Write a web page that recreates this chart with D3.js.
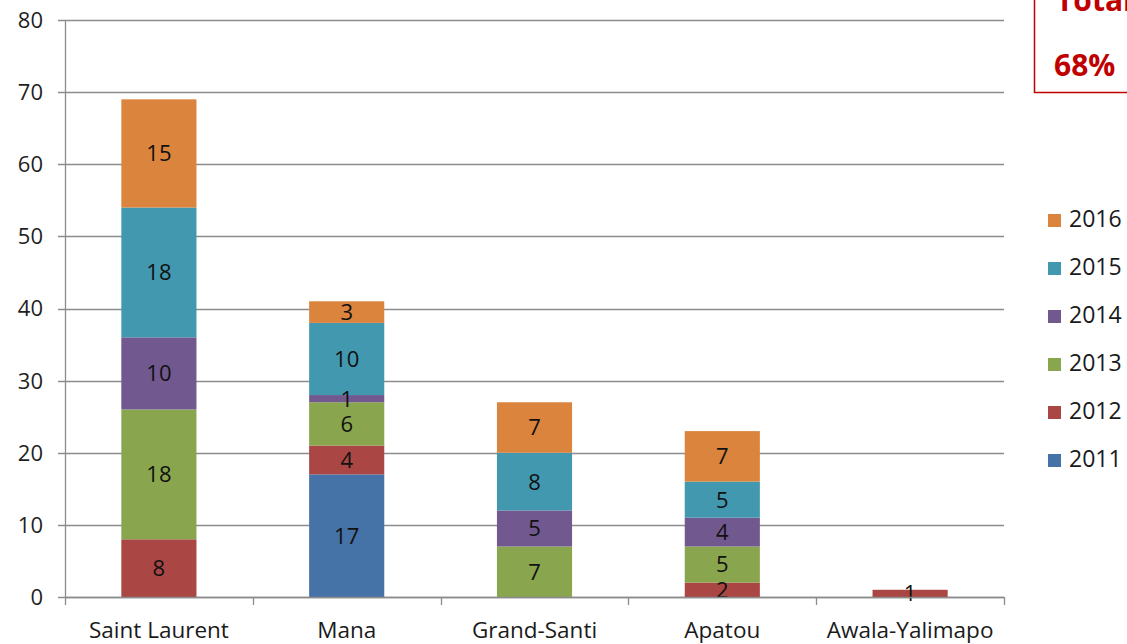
<!DOCTYPE html>
<html>
<head>
<meta charset="utf-8">
<script src="https://cdn.jsdelivr.net/npm/d3@7/dist/d3.min.js"></script>
<style>
  html, body { margin: 0; padding: 0; background: #fff; }
  svg { display: block; }
  text { font-family: "Open Sans", "Noto Sans", sans-serif; }
</style>
</head>
<body>
<svg id="chart" width="1127" height="644"></svg>
<script>
// Communes and yearly counts (stacked bottom to top: 2011 → 2016)
const communes = ["Saint Laurent", "Mana", "Grand-Santi", "Apatou", "Awala-Yalimapo"];
const years = ["2011", "2012", "2013", "2014", "2015", "2016"];
const v2011 = [0, 17, 0, 0, 0];
const v2012 = [8, 4, 0, 2, 1];
const v2013 = [18, 6, 7, 5, 0];
const v2014 = [10, 1, 5, 4, 0];
const v2015 = [18, 10, 8, 5, 0];
const v2016 = [15, 3, 7, 7, 0];
const yTicks = [0, 10, 20, 30, 40, 50, 60, 70, 80];
const colors = ["#4572A7", "#AA4643", "#89A54E", "#71588F", "#4198AF", "#DB843D"];
const totalLabel = "Total";
const totalShare = "68%";

const seriesValues = [v2011, v2012, v2013, v2014, v2015, v2016];
const rows = communes.map((c, i) => {
  const r = { commune: c };
  years.forEach((y, k) => { r[y] = seriesValues[k][i]; });
  return r;
});

const svg = d3.select("#chart");
const plotLeft = 65, plotRight = 1004, plotTop = 20, plotBottom = 597;

const x = d3.scaleBand().domain(communes).range([plotLeft, plotRight])
  .paddingInner(0.6).paddingOuter(0.3);
const y = d3.scaleLinear().domain([0, 80]).range([plotBottom, plotTop]);
const color = d3.scaleOrdinal().domain(years).range(colors);

// horizontal gridlines
svg.append("g").selectAll("line").data(yTicks).join("line")
  .attr("x1", plotLeft - 7).attr("x2", plotRight)
  .attr("y1", d => Math.round(y(d)) + 0.5).attr("y2", d => Math.round(y(d)) + 0.5)
  .attr("stroke", "#8c8c8c").attr("stroke-width", 1.3);

// y axis line
svg.append("line")
  .attr("x1", plotLeft + 0.5).attr("x2", plotLeft + 0.5)
  .attr("y1", y(80)).attr("y2", y(0))
  .attr("stroke", "#8c8c8c").attr("stroke-width", 1.3);

// y tick labels
svg.append("g").selectAll("text").data(yTicks).join("text")
  .attr("x", 43).attr("y", d => y(d))
  .attr("dy", "0.36em").attr("text-anchor", "end")
  .attr("font-size", 22).attr("fill", "#1f1f1f")
  .text(d => d);

// category boundary ticks on the x axis
const bounds = d3.range(communes.length + 1).map(i => plotLeft + i * x.step());
svg.append("g").selectAll("line").data(bounds).join("line")
  .attr("x1", d => Math.round(d) + 0.5).attr("x2", d => Math.round(d) + 0.5)
  .attr("y1", plotBottom).attr("y2", plotBottom + 8)
  .attr("stroke", "#8c8c8c").attr("stroke-width", 1.3);

// stacked bars
const stack = d3.stack().keys(years)(rows);
const layers = svg.append("g").selectAll("g").data(stack).join("g")
  .attr("fill", d => color(d.key));
layers.selectAll("rect").data(d => d.filter(s => s[1] - s[0] > 0)).join("rect")
  .attr("x", d => x(d.data.commune))
  .attr("width", x.bandwidth())
  .attr("y", d => y(d[1]))
  .attr("height", d => y(d[0]) - y(d[1]));

// value labels centred in each segment
const labels = svg.append("g");
stack.forEach(layer => {
  layer.filter(s => s[1] - s[0] > 0).forEach(s => {
    labels.append("text")
      .attr("x", x(s.data.commune) + x.bandwidth() / 2)
      .attr("y", (y(s[0]) + y(s[1])) / 2)
      .attr("dy", "0.36em").attr("text-anchor", "middle")
      .attr("font-size", 22).attr("fill", "#111")
      .text(s[1] - s[0]);
  });
});

// x axis baseline redrawn on top of bars
svg.append("line")
  .attr("x1", plotLeft).attr("x2", plotRight)
  .attr("y1", Math.round(y(0)) + 0.5).attr("y2", Math.round(y(0)) + 0.5)
  .attr("stroke", "#8c8c8c").attr("stroke-width", 1.3);

// category labels
svg.append("g").selectAll("text").data(communes).join("text")
  .attr("x", d => x(d) + x.bandwidth() / 2).attr("y", 638)
  .attr("text-anchor", "middle")
  .attr("font-size", 22.5).attr("fill", "#1a1a1a")
  .text(d => d);

// legend, newest year on top
const legendYears = years.slice().reverse();
const legend = svg.append("g").selectAll("g").data(legendYears).join("g")
  .attr("transform", (d, i) => `translate(1048, ${219 + i * 48})`);
legend.append("rect")
  .attr("x", 0).attr("y", -5).attr("width", 13).attr("height", 13)
  .attr("fill", d => color(d));
legend.append("text")
  .attr("x", 21).attr("y", 0).attr("dy", "0.36em")
  .attr("font-size", 23).attr("fill", "#1a1a1a")
  .text(d => d);

// total callout box in the corner
svg.append("rect")
  .attr("x", 1034.5).attr("y", -10).attr("width", 120).attr("height", 102.5)
  .attr("fill", "#fff").attr("stroke", "#c00000").attr("stroke-width", 1.5);
svg.append("text")
  .attr("x", 1056).attr("y", 11)
  .attr("font-size", 30).attr("font-weight", "bold").attr("fill", "#c00000")
  .text(totalLabel);
svg.append("text")
  .attr("x", 1054).attr("y", 76)
  .attr("font-size", 30).attr("font-weight", "bold").attr("fill", "#c00000")
  .text(totalShare);
</script>
</body>
</html>
